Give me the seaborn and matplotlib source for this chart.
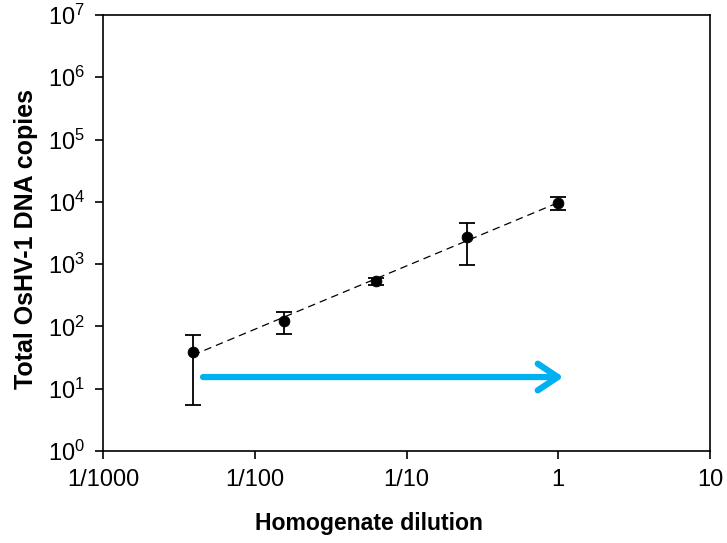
import numpy as np
import pandas as pd
import matplotlib
matplotlib.use("Agg")
import matplotlib.pyplot as plt
import seaborn as sns

# ---- data ----
dilution = [1/256, 1/64, 1/16, 1/4, 1.0]
copies = [39, 122, 536, 2700, 9560]
err_low = [5.5, 75, 470, 970, 7400]
err_high = [73, 170, 610, 4570, 12000]
x_ticks = [1e-3, 1e-2, 1e-1, 1, 10]
x_tick_labels = ["1/1000", "1/100", "1/10", "1", "10"]
y_ticks = [1e0, 1e1, 1e2, 1e3, 1e4, 1e5, 1e6, 1e7]
arrow_start = (0.00456, 15.4)
arrow_end = (1.08, 15.4)

sns.set_theme(style="white")
plt.rcParams["font.family"] = ["Liberation Sans", "DejaVu Sans"]
plt.rcParams["mathtext.fontset"] = "custom"
plt.rcParams["mathtext.rm"] = "Liberation Sans"
plt.rcParams["mathtext.it"] = "Liberation Sans"

df = pd.DataFrame({"dilution": dilution, "copies": copies,
                   "lo": err_low, "hi": err_high})

fig = plt.figure(figsize=(7.27, 5.43), dpi=100)
ax = fig.add_axes([0.1417, 0.1694, 0.835, 0.803])

# trend line (power-law fit in log space)
coef = np.polyfit(np.log10(df["dilution"]), np.log10(df["copies"]), 1)
trend = pd.DataFrame({"x": [dilution[0], dilution[-1]]})
trend["y"] = 10 ** np.polyval(coef, np.log10(trend["x"]))
sns.lineplot(data=trend, x="x", y="y", ax=ax, color="black", lw=0.9,
             dashes=False, linestyle=(0, (6, 4)), zorder=2)

# error bars
yerr = np.array([df["copies"] - df["lo"], df["hi"] - df["copies"]])
ax.errorbar(df["dilution"], df["copies"], yerr=yerr, fmt="none",
            ecolor="black", elinewidth=1.3, capsize=5.5, capthick=1.3, zorder=3)
sns.scatterplot(data=df, x="dilution", y="copies", ax=ax, color="black",
                s=60, edgecolor="black", zorder=4)

ax.annotate("", xy=arrow_end, xytext=arrow_start,
            arrowprops=dict(arrowstyle="->,head_length=1.2,head_width=0.8",
                            color="#00B0F0", lw=4.5, capstyle="round",
                            joinstyle="round", shrinkA=0, shrinkB=0))

ax.set_xscale("log")
ax.set_yscale("log")
ax.set_xlim(1e-3, 10)
ax.set_ylim(1, 1e7)
ax.set_xticks(x_ticks)
ax.set_xticklabels(x_tick_labels)
ax.set_yticks(y_ticks)
ax.minorticks_off()
ax.tick_params(axis="both", which="major", direction="out", length=6,
               width=1.2, color="black", labelsize=17, labelcolor="black",
               bottom=True, left=True, top=False, right=False, pad=7)
for s in ax.spines.values():
    s.set_color("black")
    s.set_linewidth(1.2)
ax.set_xlabel("Homogenate dilution", fontsize=16.6, fontweight="bold",
              color="black")
ax.set_ylabel("Total OsHV-1 DNA copies", fontsize=18, fontweight="bold",
              color="black")
ax.xaxis.set_label_coords(0.438, -0.14)
ax.yaxis.set_label_coords(-0.107, 0.486)

fig.savefig("out.png", dpi=100)
